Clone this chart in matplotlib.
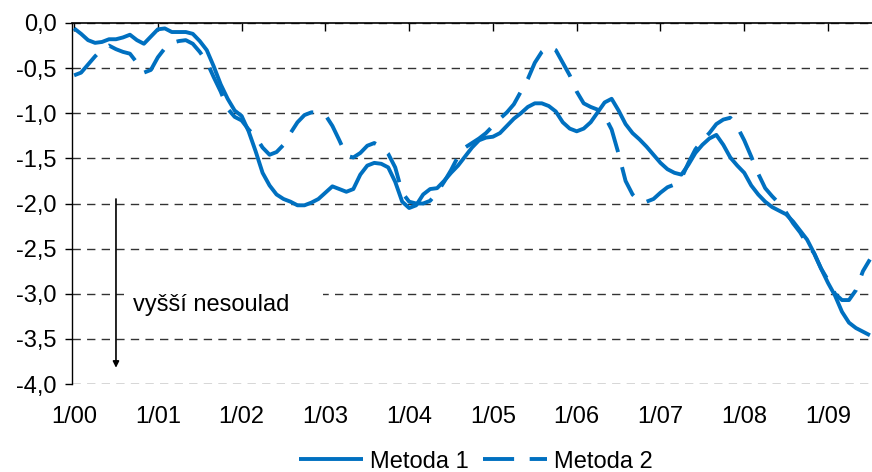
import numpy as np
import matplotlib
matplotlib.use("Agg")
import matplotlib.pyplot as plt
from matplotlib.patches import Rectangle
from matplotlib.ticker import FuncFormatter

plt.rcParams['font.family'] = ['Liberation Sans', 'DejaVu Sans']

# monthly values, 1/2000 onwards
metoda1 = [
    -0.06, -0.12, -0.19, -0.22, -0.21, -0.18, -0.18, -0.16, -0.13, -0.19,
    -0.23, -0.15, -0.07, -0.06, -0.10, -0.10, -0.10, -0.12, -0.20, -0.30,
    -0.48, -0.68, -0.84, -0.97, -1.03, -1.20, -1.42, -1.66, -1.80, -1.90,
    -1.95, -1.98, -2.02, -2.02, -1.99, -1.95, -1.88, -1.81, -1.84, -1.87,
    -1.84, -1.68, -1.58, -1.55, -1.56, -1.60, -1.76, -1.98, -2.05, -2.02,
    -1.90, -1.84, -1.83, -1.75, -1.66, -1.58, -1.48, -1.38, -1.30, -1.27,
    -1.26, -1.22, -1.14, -1.06, -1.00, -0.93, -0.89, -0.89, -0.92, -0.98,
    -1.10, -1.17, -1.20, -1.17, -1.10, -0.99, -0.88, -0.84, -0.97, -1.12,
    -1.22, -1.29, -1.37, -1.46, -1.55, -1.62, -1.66, -1.68, -1.57, -1.44,
    -1.35, -1.28, -1.24, -1.35, -1.49, -1.58, -1.66, -1.80, -1.90, -1.98,
    -2.04, -2.08, -2.12, -2.20, -2.30, -2.40, -2.55, -2.72, -2.88, -3.02,
    -3.20, -3.32, -3.38, -3.42, -3.46,
]
metoda2 = [
    -0.58, -0.55, -0.46, -0.37, -0.29, -0.25, -0.29, -0.32, -0.34, -0.44,
    -0.55, -0.52, -0.38, -0.28, -0.22, -0.20, -0.19, -0.23, -0.32, -0.43,
    -0.60, -0.76, -0.95, -1.04, -1.08, -1.18, -1.26, -1.38, -1.46, -1.43,
    -1.35, -1.22, -1.10, -1.02, -0.99, -0.99, -1.02, -1.14, -1.30, -1.47,
    -1.49, -1.44, -1.36, -1.33, -1.37, -1.45, -1.60, -1.88, -1.98, -2.00,
    -2.00, -1.97, -1.88, -1.76, -1.63, -1.48, -1.38, -1.33, -1.28, -1.22,
    -1.14, -1.06, -0.99, -0.90, -0.76, -0.62, -0.44, -0.32, -0.26, -0.30,
    -0.44, -0.58, -0.76, -0.89, -0.93, -0.96, -1.03, -1.18, -1.45, -1.75,
    -1.90, -1.98, -1.98, -1.95, -1.88, -1.82, -1.79, -1.72, -1.55, -1.40,
    -1.30, -1.22, -1.12, -1.07, -1.05, -1.15, -1.30, -1.48, -1.67, -1.83,
    -1.92, -2.00, -2.10, -2.22, -2.32, -2.45, -2.55, -2.72, -2.85, -3.00,
    -3.07, -3.07, -2.96, -2.75, -2.62,
]
year_labels = ['1/00', '1/01', '1/02', '1/03', '1/04',
               '1/05', '1/06', '1/07', '1/08', '1/09']
y_ticks = [0.0, -0.5, -1.0, -1.5, -2.0, -2.5, -3.0, -3.5, -4.0]

blue = '#0070C0'
fs = 17

months = np.arange(len(metoda1))

fig = plt.figure(figsize=(8.72, 4.72), dpi=100)
ax = fig.add_axes([72 / 872, 1 - 384 / 472, 800 / 872, 361 / 472])

ax.plot(months, metoda1, color=blue, lw=2.8, label='Metoda 1',
        zorder=4, solid_capstyle='butt')
ax.plot(months, metoda2, color=blue, lw=2.8, label='Metoda 2',
        dashes=(8, 4), zorder=3)

ax.set_xlim(-0.3, 114.3)
ax.set_ylim(-4.0, 0.0)

# dashed horizontal grid
ax.set_yticks(y_ticks)
ax.yaxis.grid(True, color='#333333', lw=1.0, dashes=(6, 4.5))
ax.set_axisbelow(True)
ax.yaxis.set_major_formatter(FuncFormatter(lambda v, p: f"{v:.1f}".replace('.', ',')))
ax.tick_params(axis='y', direction='out', length=5, width=1, pad=6,
               labelsize=fs, color='black')

# x axis sits at zero: tick marks on top, labels at the bottom
ax.set_xticks(months[::12])
ax.set_xticklabels(year_labels)
ax.tick_params(axis='x', top=True, bottom=False, labeltop=False,
               labelbottom=True, direction='in', length=6, width=1,
               pad=16, labelsize=fs)

for side in ['right', 'bottom']:
    ax.spines[side].set_visible(False)
ax.spines['top'].set_linewidth(1.2)
ax.spines['left'].set_linewidth(1.0)

# note with arrow
ax.add_patch(Rectangle((7.2, -3.33), 28.5, 0.5, facecolor='white',
                       edgecolor='none', zorder=2))
ax.text(8.4, -3.13, 'vyšší nesoulad', fontsize=fs, va='center', ha='left',
        zorder=5)
ax.annotate('', xy=(6.0, -3.82), xytext=(6.0, -1.95),
            arrowprops=dict(arrowstyle='-|>', color='black', lw=1.2,
                            mutation_scale=9, shrinkA=0, shrinkB=0),
            zorder=5)

fig.legend(loc='center', bbox_to_anchor=(476 / 872, 0.022), ncol=2,
           frameon=False, fontsize=fs, handlelength=2.7, handletextpad=0.3,
           columnspacing=0.6, borderaxespad=0)

fig.savefig('out.png', dpi=100)
